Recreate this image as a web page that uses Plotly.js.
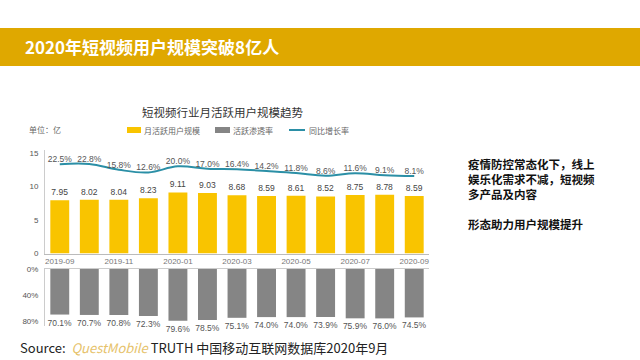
<!DOCTYPE html>
<html><head><meta charset="utf-8">
<script src="https://cdn.plot.ly/plotly-3.0.1.min.js"></script>
<style>html,body{margin:0;padding:0;background:#fff;}#chart{width:640px;height:360px;}</style>
</head><body><div id="chart"></div>
<script>
const months = ['2019-09','2019-10','2019-11','2019-12','2020-01','2020-02','2020-03','2020-04','2020-05','2020-06','2020-07','2020-08','2020-09'];
const tickLabels = ['2019-09','2019-11','2020-01','2020-03','2020-05','2020-07','2020-09'];
const mau = [7.95, 8.02, 8.04, 8.23, 9.11, 9.03, 8.68, 8.59, 8.61, 8.52, 8.75, 8.78, 8.59];
const growth = [22.5, 22.8, 15.8, 12.6, 20.0, 17.0, 16.4, 14.2, 11.8, 8.6, 11.6, 9.1, 8.1];
const penetration = [70.1, 70.7, 70.8, 72.3, 79.6, 78.5, 75.1, 74.0, 74.0, 73.9, 75.9, 76.0, 74.5];
const sideText = ['疫情防控常态化下，线上', '娱乐化需求不减，短视频', '多产品及内容', ' ', '形态助力用户规模提升'];

const font = '"Noto Sans CJK SC", "Noto Sans", sans-serif';
const W = 640, H = 360;
const px = v => v / W, py = v => 1 - v / H;

const traces = [
  {type:'bar', x:months, y:mau, xaxis:'x', yaxis:'y', marker:{color:'#F9C400'}, width:0.64,
   text:mau.map(v=>v.toFixed(2)), textposition:'outside', cliponaxis:false, constraintext:'none',
   textfont:{size:8.5, color:'#444', family:'Liberation Sans, Arial'}, showlegend:false, hoverinfo:'skip'},
  {type:'scatter', mode:'lines+text', x:months, y:growth, xaxis:'x', yaxis:'y2',
   line:{color:'#2B8FA6', width:2, shape:'spline', smoothing:1.1},
   text:growth.map(v=>v.toFixed(1)+'%'), textposition:'top center', cliponaxis:false,
   textfont:{size:8.5, color:'#555', family:'Liberation Sans, Arial'}, showlegend:false, hoverinfo:'skip'},
  {type:'bar', x:months, y:penetration, xaxis:'x2', yaxis:'y3', marker:{color:'#858585'}, width:0.64,
   text:penetration.map(v=>v.toFixed(1)+'%'), textposition:'outside', cliponaxis:false, constraintext:'none',
   textfont:{size:8.5, color:'#555', family:'Liberation Sans, Arial'}, showlegend:false, hoverinfo:'skip'}
];

const xdom = [px(45), px(429)];
const annotations = [
  {xref:'paper', yref:'paper', x:px(23), y:py(47), xanchor:'left', yanchor:'middle', showarrow:false,
   text:'<b>2020年短视频用户规模突破8亿人</b>', font:{size:17, color:'#fff', family:font}},
  {xref:'paper', yref:'paper', x:px(222), y:py(112), xanchor:'center', yanchor:'middle', showarrow:false,
   text:'短视频行业月活跃用户规模趋势', font:{size:11.5, color:'#333', family:font}},
  {xref:'paper', yref:'paper', x:px(27), y:py(129), xanchor:'left', yanchor:'middle', showarrow:false,
   text:'单位：亿', font:{size:8, color:'#666', family:font}},
  {xref:'paper', yref:'paper', x:px(142), y:py(130), xanchor:'left', yanchor:'middle', showarrow:false,
   text:'月活跃用户规模', font:{size:8, color:'#666', family:font}},
  {xref:'paper', yref:'paper', x:px(231), y:py(130), xanchor:'left', yanchor:'middle', showarrow:false,
   text:'活跃渗透率', font:{size:8, color:'#666', family:font}},
  {xref:'paper', yref:'paper', x:px(307), y:py(130), xanchor:'left', yanchor:'middle', showarrow:false,
   text:'同比增长率', font:{size:8, color:'#666', family:font}},
  {xref:'paper', yref:'paper', x:px(466), y:py(154), xanchor:'left', yanchor:'top', showarrow:false, align:'left',
   text:'<b>' + sideText.join('<br>') + '</b>', font:{size:11.5, color:'#111', family:font}},
  {xref:'paper', yref:'paper', x:px(18), y:py(347), xanchor:'left', yanchor:'middle', showarrow:false,
   text:'Source:  <i><span style="color:#E6C26A">QuestMobile</span></i> TRUTH 中国移动互联网数据库2020年9月',
   font:{size:13, color:'#222', family:font}}
];

const layout = {
  width:W, height:H, margin:{l:0,r:0,t:0,b:0}, paper_bgcolor:'#fff', plot_bgcolor:'rgba(0,0,0,0)',
  font:{family:font}, bargap:0.36, showlegend:false,
  xaxis:{domain:xdom, type:'category', range:[-0.5,12.5], tickmode:'array', tickvals:tickLabels, ticktext:tickLabels,
    tickfont:{size:8, color:'#777', family:'Liberation Sans, Arial'}, showline:true, linecolor:'#bbb', linewidth:1,
    ticks:'', showgrid:false, zeroline:false, anchor:'y', fixedrange:true},
  yaxis:{domain:[py(253.5), py(150)], range:[0,15.45], tickvals:[0,5,10,15], showgrid:false, zeroline:false,
    showline:true, linecolor:'#ccc', linewidth:1, ticks:'outside', ticklen:4, tickcolor:'rgba(0,0,0,0)',
    tickfont:{size:8, color:'#555', family:'Liberation Sans, Arial'}, anchor:'x'},
  yaxis2:{domain:[py(253.5), py(150)], overlaying:'y', range:[-86.3,39.9], visible:false, anchor:'x'},
  xaxis2:{domain:xdom, type:'category', range:[-0.5,12.5], showticklabels:false, ticks:'', showline:true,
    linecolor:'#ccc', side:'top', showgrid:false, zeroline:false, anchor:'y3'},
  yaxis3:{domain:[py(326), py(269)], range:[87.7,0], tickvals:[0,40,80], ticktext:['0%','40%','80%'],
    showgrid:false, zeroline:false, showline:true, linecolor:'#ccc', ticks:'outside', ticklen:4, tickcolor:'rgba(0,0,0,0)',
    tickfont:{size:8, color:'#555', family:'Liberation Sans, Arial'}, anchor:'x2'},
  shapes:[
    {type:'rect', xref:'paper', yref:'paper', x0:0, x1:1, y0:py(66), y1:py(28), fillcolor:'#DFA800', line:{width:0}, layer:'below'},
    {type:'rect', xref:'paper', yref:'paper', x0:px(127), x1:px(141), y0:py(133), y1:py(127), fillcolor:'#F9C400', line:{width:0}},
    {type:'rect', xref:'paper', yref:'paper', x0:px(215), x1:px(230), y0:py(133), y1:py(127), fillcolor:'#858585', line:{width:0}},
    {type:'line', xref:'paper', yref:'paper', x0:px(289), x1:px(305), y0:py(130), y1:py(130), line:{color:'#2B8FA6', width:2}}
  ],
  annotations: annotations
};
Plotly.newPlot('chart', traces, layout, {staticPlot:true, displayModeBar:false});
</script></body></html>
